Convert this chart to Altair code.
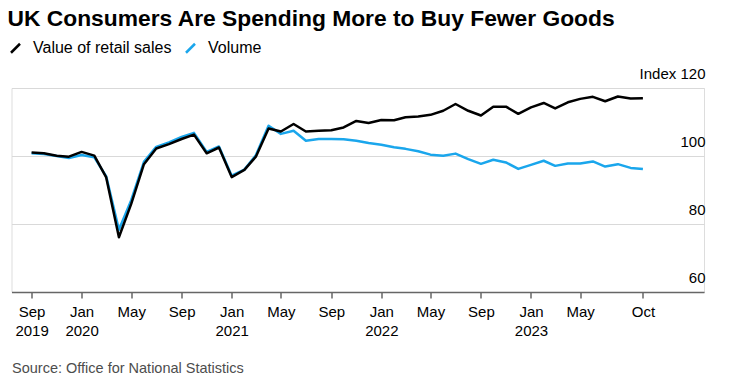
import altair as alt
import pandas as pd

# ---- data ----
months = pd.date_range("2019-09-01", "2023-10-01", freq="MS").strftime("%Y-%m-%d").tolist()

value_sales = [
    101.0, 100.8, 100.1, 99.8, 101.2, 100.1, 93.7, 76.1, 85.9, 97.6,
    102.2, 103.5, 105.0, 106.3, 100.8, 102.5, 93.8, 95.9, 99.8, 108.1,
    107.2, 109.4, 107.2, 107.4, 107.6, 108.4, 110.3, 109.7, 110.6, 110.5,
    111.4, 111.6, 112.1, 113.3, 115.3, 113.3, 111.9, 114.5, 114.5, 112.4,
    114.3, 115.6, 114.0, 115.8, 116.8, 117.4, 116.1, 117.5, 116.9, 117.0,
]
volume = [
    100.8, 100.6, 100.0, 99.4, 100.3, 99.6, 94.0, 78.3, 87.0, 98.3,
    102.7, 104.0, 105.6, 106.8, 101.2, 102.8, 94.2, 96.0, 100.2, 108.9,
    106.5, 107.4, 104.5, 105.0, 105.0, 104.9, 104.5, 103.8, 103.3, 102.6,
    102.1, 101.4, 100.4, 100.1, 100.7, 99.1, 97.7, 98.9, 98.1, 96.2,
    97.4, 98.6, 97.1, 97.8, 97.8, 98.4, 96.9, 97.6, 96.5, 96.2,
]

series_names = ["Value of retail sales", "Volume"]
series_colors = ["#000000", "#1aa6ec"]
y_ticks = [60, 80, 100, 120]
x_tick_months = [
    (2019, 9), (2020, 1), (2020, 5), (2020, 9), (2021, 1), (2021, 5), (2021, 9),
    (2022, 1), (2022, 5), (2022, 9), (2023, 1), (2023, 5), (2023, 10),
]

title_text = "UK Consumers Are Spending More to Buy Fewer Goods"
source_text = "Source: Office for National Statistics"

df = pd.DataFrame({
    "date": months + months,
    "series": [series_names[0]] * len(months) + [series_names[1]] * len(months),
    "value": value_sales + volume,
})

FONT = "Liberation Sans"

x_values = [alt.DateTime(year=y, month=m, date=1, utc=True) for y, m in x_tick_months]
x_domain = [alt.DateTime(year=2019, month=7, date=14, utc=True),
            alt.DateTime(year=2024, month=2, date=27, utc=True)]

label_expr = ("utcFormat(datum.value, '%b') == 'Jan' || utcFormat(datum.value, '%Y-%m') == '2019-09'"
              " ? [utcFormat(datum.value, '%b'), utcFormat(datum.value, '%Y')]"
              " : utcFormat(datum.value, '%b')")

x_enc = alt.X(
    "date:T",
    scale=alt.Scale(type="utc", domain=x_domain),
    axis=alt.Axis(
        values=x_values,
        labelExpr=label_expr,
        grid=False,
        tickSize=6,
        tickWidth=1.5,
        tickColor="#666666",
        domainColor="#666666",
        domainWidth=1.5,
        labelPadding=6,
        labelFont=FONT,
        labelFontSize=15,
        labelColor="#000000",
        labelLineHeight=19,
        labelFlush=False,
        labelOverlap=False,
        title=source_text,
        titleFont=FONT,
        titleFontSize=14.5,
        titleFontWeight="normal",
        titleColor="#4d4d4d",
        titleAnchor="start",
        titleAlign="left",
        titleBaseline="alphabetic",
        titleX=0,
        titleY=80.4,
        zindex=1,
    ),
)

y_enc = alt.Y(
    "value:Q",
    scale=alt.Scale(domain=[60, 120], nice=False, zero=False),
    axis=alt.Axis(
        orient="right",
        values=y_ticks,
        labelExpr="datum.value == 120 ? 'Index 120' : datum.label",
        grid=True,
        gridColor="#d9d9d9",
        gridWidth=1,
        domain=False,
        ticks=False,
        tickSize=0,
        labelPadding=1,
        labelAlign="right",
        labelBaseline="alphabetic",
        labelOffset=-10,
        labelFont=FONT,
        labelFontSize=15,
        labelColor="#000000",
        title=None,
    ),
)

color_enc = alt.Color(
    "series:N",
    scale=alt.Scale(domain=series_names, range=series_colors),
    legend=alt.Legend(
        orient="none",
        legendX=-4,
        legendY=-48,
        direction="horizontal",
        title=None,
        symbolType="M-1,1L1,-1",
        symbolSize=81,
        symbolStrokeWidth=2.5,
        labelFont=FONT,
        labelFontSize=16,
        labelColor="#000000",
        labelOffset=9.5,
        columnPadding=9,
        padding=0,
    ),
)

base = alt.Chart(df).encode(x=x_enc, y=y_enc, color=color_enc)

vol_line = base.transform_filter(alt.datum.series == series_names[1]).mark_line(
    strokeWidth=2.5, strokeJoin="round")
val_line = base.transform_filter(alt.datum.series == series_names[0]).mark_line(
    strokeWidth=2.5, strokeJoin="round")

chart = alt.layer(vol_line, val_line).properties(
    width=692.5,
    height=204,
    title=alt.Title(
        title_text,
        anchor="start",
        font=FONT,
        fontSize=22.8,
        fontWeight="bold",
        color="#000000",
        offset=9,
    ),
    padding={"left": -0.5, "top": 0, "right": 5, "bottom": 0},
).configure_view(stroke=None).configure(background="white")

chart.save("out.html", embed_options={"renderer": "svg", "actions": False})
